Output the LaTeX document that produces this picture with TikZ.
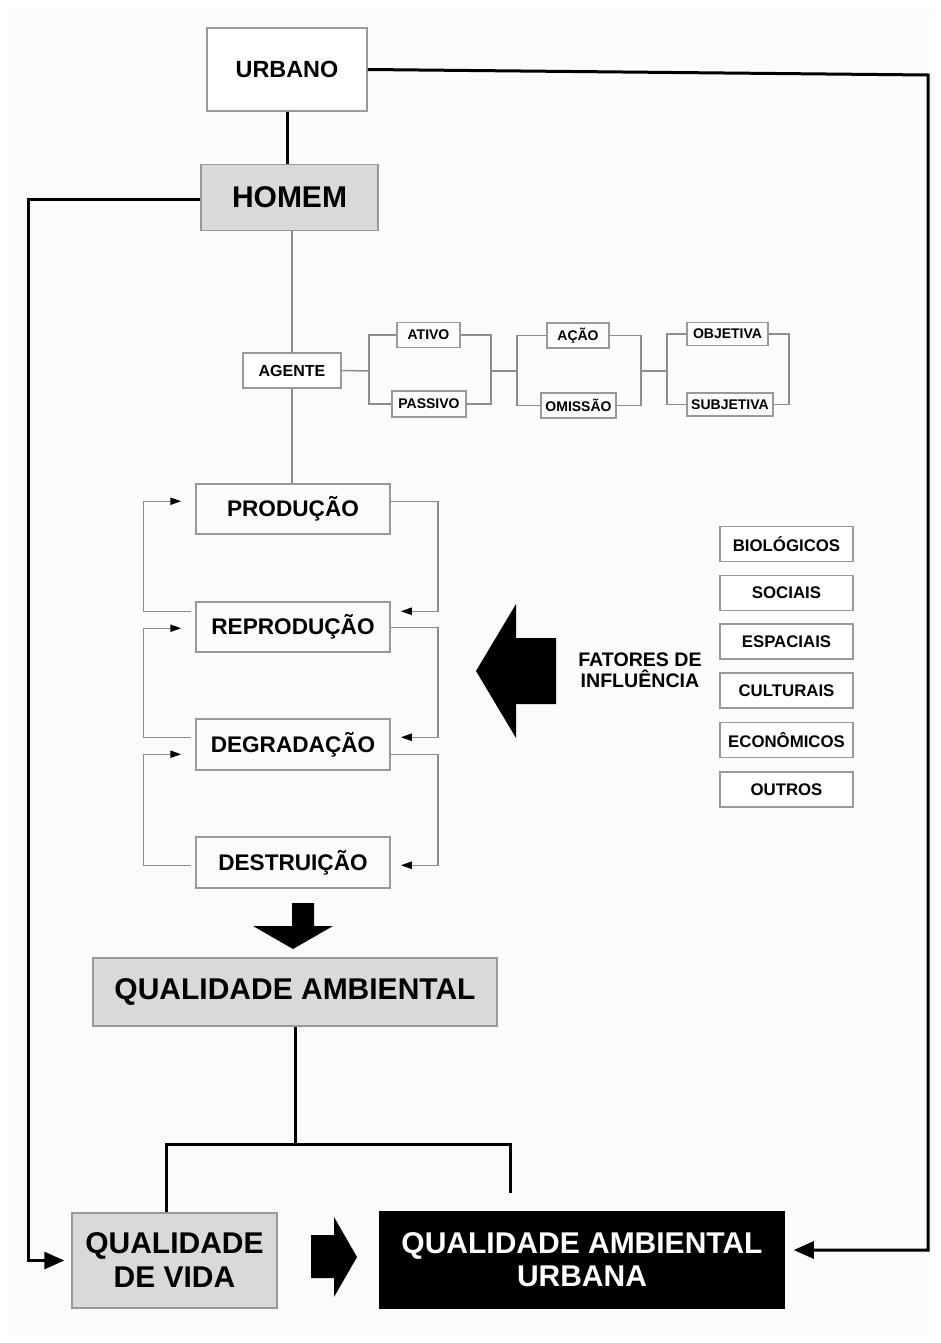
\documentclass[tikz,border=0pt]{standalone}
\usepackage{fontspec}
\setmainfont{Liberation Sans}
\usepackage{tikz}
\usetikzlibrary{arrows.meta, calc}
\newcommand{\fs}[2]{\fontsize{#1}{#2}\selectfont\bfseries}

\begin{document}
\begin{tikzpicture}[x=0.5pt, y=-0.5pt,
    box/.style={draw=black!40, line width=0.75pt, inner sep=0pt, align=center},
    greybox/.style={box, fill=black!15},
    link/.style={draw=black!45, line width=0.75pt},
    cyc/.style={link, -{Triangle[length=5.5pt, width=3.6pt, color=black]}},
    heavy/.style={draw=black, line width=1.5pt},
    heavyarrow/.style={heavy, -{Triangle[length=10pt, width=8.5pt]}}]
    \useasboundingbox (0,0) rectangle (941,1343);
    \fill[white] (0,0) rectangle (941,1343);
    \fill[black!1.5] (8,9) rectangle (935,1336);

    % Top: urbano and homem
    \node[box, fill=white, minimum width=80pt, minimum height=41.5pt, font=\fs{11.7pt}{14pt}] (urb) at (287,69.5) {URBANO};
    \node[greybox, minimum width=88.5pt, minimum height=33pt, font=\fs{15pt}{18pt}] (hom) at (289.5,197.5) {HOMEM};
    \draw[heavy] (urb.south) -- (urb.south |- hom.north);

    % Agente and its three pairs
    \node[box, fill=white, minimum width=49pt, minimum height=17.5pt, font=\fs{8pt}{10pt}] (agt) at (292,370.5) {AGENTE};
    \node[box, minimum width=31.5pt, minimum height=12.5pt, font=\fs{7pt}{8pt}] (ativo) at (428.5,335) {ATIVO};
    \node[box, minimum width=37pt, minimum height=13pt, font=\fs{7pt}{8pt}] (passivo) at (429,404) {PASSIVO};
    \node[box, minimum width=31pt, minimum height=12.5pt, font=\fs{7pt}{8pt}] (acao) at (578,335.5) {AÇÃO};
    \node[box, minimum width=37.5pt, minimum height=12.5pt, font=\fs{7pt}{8pt}] (omissao) at (578.5,405.5) {OMISSÃO};
    \node[box, minimum width=40.5pt, minimum height=11.5pt, font=\fs{7pt}{8pt}] (objetiva) at (727.5,334) {OBJETIVA};
    \node[box, minimum width=43pt, minimum height=11.5pt, font=\fs{7pt}{8pt}] (subjetiva) at (730,404.5) {SUBJETIVA};

    \coordinate (j1) at (369,371);
    \coordinate (j2) at (491,371);
    \coordinate (j3) at (517,371);
    \coordinate (j4) at (641,371);
    \coordinate (j5) at (667,371);
    \coordinate (j6) at (789,371);

    \draw[link] (agt.north) -- (agt.north |- hom.south);
    \draw[link] (agt.east) -- (j1);
    \draw[link] (ativo.west) -| (j1) |- (passivo.west);
    \draw[link] (ativo.east) -| (j2) |- (passivo.east);
    \draw[link] (j2) -- (j3);
    \draw[link] (acao.west) -| (j3) |- (omissao.west);
    \draw[link] (acao.east) -| (j4) |- (omissao.east);
    \draw[link] (j4) -- (j5);
    \draw[link] (objetiva.west) -| (j5) |- (subjetiva.west);
    \draw[link] (objetiva.east) -| (j6) |- (subjetiva.east);

    % The cycle
    \node[box, minimum width=97pt, minimum height=25pt, font=\fs{11.3pt}{13pt}] (prod) at (293,509) {PRODUÇÃO};
    \node[box, minimum width=97pt, minimum height=25pt, font=\fs{11.3pt}{13pt}] (repr) at (293,627) {REPRODUÇÃO};
    \node[box, minimum width=97pt, minimum height=25.5pt, font=\fs{11.3pt}{13pt}] (degr) at (293,744.5) {DEGRADAÇÃO};
    \node[box, minimum width=97pt, minimum height=25.5pt, font=\fs{11.3pt}{13pt}] (dest) at (293,862.5) {DESTRUIÇÃO};
    \draw[link] (agt.south) -- (agt.south |- prod.north);

    \draw[cyc] ($(repr.north west)+(-4,10)$) -- ++(-48,0) |- ($(prod.north west)+(-14,18)$);
    \draw[cyc] ($(degr.north west)+(-4,19)$) -- ++(-48,0) |- ($(repr.north west)+(-14,27)$);
    \draw[cyc] ($(dest.north west)+(-4,29)$) -- ++(-48,0) |- ($(degr.north west)+(-14,36)$);
    \draw[cyc] ($(prod.north east)+(0,18)$) -- ++(47,0) |- ($(repr.north east)+(10,10)$);
    \draw[cyc] ($(repr.north east)+(0,26)$) -- ++(47,0) |- ($(degr.north east)+(10,19)$);
    \draw[cyc] ($(degr.north east)+(0,36)$) -- ++(47,0) |- ($(dest.north east)+(10,29)$);

    % Fatores de influencia
    \fill (476,671) -- (516,604) -- (516,638) -- (556,638) -- (556,704) -- (516,704) -- (516,738) -- cycle;
    \node[align=center, inner sep=0pt, font=\fs{9.8pt}{10.5pt}] (fat) at (640,670) {FATORES DE\\INFLUÊNCIA};
    \foreach \y/\name/\txt in {544/bio/BIOLÓGICOS, 593/soc/SOCIAIS, 641.5/esp/ESPACIAIS,
                                690.5/cul/CULTURAIS, 740/eco/ECONÔMICOS, 789.5/out/OUTROS}
        \node[box, fill=white, minimum width=66.5pt, minimum height=17.5pt, font=\fs{8.4pt}{10pt}] (\name) at (786.5,\y) {\txt};

    % Qualidade ambiental
    \fill (292,903) -- (314,903) -- (314,926) -- (333,926) -- (293,949) -- (253,926) -- (292,926) -- cycle;
    \node[greybox, minimum width=202pt, minimum height=34pt, font=\fs{15pt}{18pt}] (qa) at (295,992) {QUALIDADE AMBIENTAL};
    \node[greybox, minimum width=102.5pt, minimum height=47.5pt, font=\fs{15pt}{17pt}] (qv) at (174.5,1260.5) {QUALIDADE\\DE VIDA};
    \node[box, draw=black, fill=black, text=white, minimum width=202pt, minimum height=48pt, font=\fs{15pt}{16.5pt}] (qau) at (582,1260) {QUALIDADE AMBIENTAL\\URBANA};
    \fill (311,1235) -- (334,1235) -- (334,1217) -- (357,1257) -- (334,1297) -- (334,1278) -- (311,1278) -- cycle;

    \coordinate (sl) at (166,1144);
    \coordinate (sr) at (510,1144);
    \draw[heavy] (qa.south) -- (qa.south |- sl);
    \draw[heavy] (sl |- qv.north) -- (sl) -- (sr) -- ++(0,49);

    % Outer feedback lines
    \coordinate (ucorner) at (928,75);
    \coordinate (hcorner) at (28,199);
    \draw[heavyarrow] (urb.east) -- (ucorner) |- ($(qau.east)+(9,-10)$);
    \draw[heavyarrow] (hom.west |- hcorner) -- (hcorner) |- ($(qv.west)+(-7,0)$);
\end{tikzpicture}
\end{document}
